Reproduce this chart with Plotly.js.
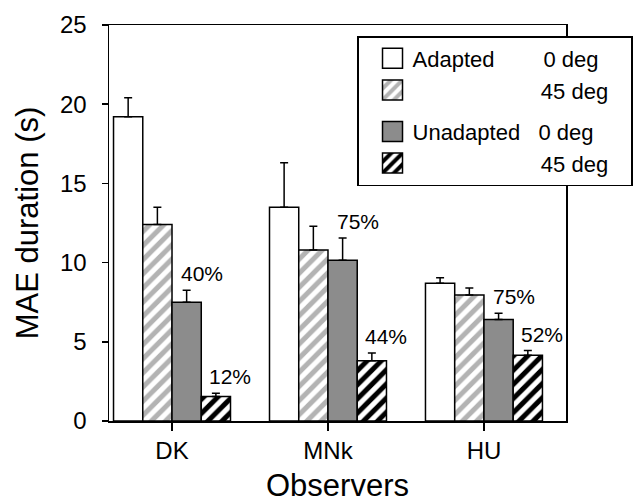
<!DOCTYPE html>
<html><head><meta charset="utf-8">
<script src="https://cdn.plot.ly/plotly-3.0.1.min.js"></script>
<style>html,body{margin:0;padding:0;background:#fff}#chart{width:638px;height:504px}</style>
</head><body><div id="chart"></div>
<script>
// ---- data ----
const observers = ['DK', 'MNk', 'HU'];
const seriesNames = ['Adapted', '', 'Unadapted', ''];
const angleLabels = ['0 deg', '45 deg', '0 deg', '45 deg'];
const adapted0 = [19.2, 13.5, 8.7];
const adapted0Err = [1.2, 2.8, 0.35];
const adapted45 = [12.4, 10.8, 7.95];
const adapted45Err = [1.1, 1.5, 0.45];
const unadapted0 = [7.5, 10.15, 6.4];
const unadapted0Err = [0.75, 1.4, 0.4];
const unadapted45 = [1.55, 3.8, 4.15];
const unadapted45Err = [0.2, 0.5, 0.3];
const pctUnadapted0 = ['40%', '75%', '75%'];
const pctUnadapted45 = ['12%', '44%', '52%'];
const yTickVals = [0, 5, 10, 15, 20, 25];
const xTitle = 'Observers';
const yTitle = 'MAE duration (s)';

// ---- styling ----
const FONT = 'Liberation Sans, Arial, Helvetica, sans-serif';
const NB = '\u00a0';
const namePad = [8, 21, 3, 21];
const groups = ['a', 'a', 'u', 'u'];
const values = [adapted0, adapted45, unadapted0, unadapted45];
const errs = [adapted0Err, adapted45Err, unadapted0Err, unadapted45Err];
const markers = [
  {color: '#ffffff'},
  {color: '#ffffff', pattern: {shape: '/', fgcolor: '#b3b3b3', bgcolor: '#ffffff', size: 10, solidity: 0.5}},
  {color: '#8c8c8c'},
  {color: '#ffffff', pattern: {shape: '/', fgcolor: '#000000', bgcolor: '#ffffff', size: 10, solidity: 0.5}}
];

const traces = values.map((v, k) => ({
  type: 'bar',
  x: observers,
  y: v,
  name: seriesNames[k] + NB.repeat(namePad[k]) + angleLabels[k],
  legendgroup: groups[k],
  marker: Object.assign({}, markers[k], {line: {color: '#000', width: 1.5}}),
  error_y: {type: 'data', symmetric: false, array: errs[k], arrayminus: errs[k].map(() => 0),
            color: '#000', thickness: 1.5, width: 4},
  hoverinfo: 'skip'
}));

const bargap = 0.25;
const bw = (1 - bargap) / 4;
const annotations = [];
observers.forEach((o, i) => {
  annotations.push({x: i + 0.5 * bw, y: unadapted0[i] + unadapted0Err[i], xref: 'x', yref: 'y',
    text: pctUnadapted0[i], showarrow: false, xanchor: 'center', yanchor: 'bottom', xshift: 15, yshift: 3,
    font: {family: FONT, size: 21, color: '#000'}});
  annotations.push({x: i + 1.5 * bw, y: unadapted45[i] + unadapted45Err[i], xref: 'x', yref: 'y',
    text: pctUnadapted45[i], showarrow: false, xanchor: 'center', yanchor: 'bottom', xshift: 14, yshift: 3,
    font: {family: FONT, size: 21, color: '#000'}});
});
annotations.push({x: 0.5, y: -83 / 396, xref: 'paper', yref: 'paper', text: xTitle, showarrow: false,
  xanchor: 'center', yanchor: 'bottom', borderpad: 0, font: {family: FONT, size: 31, color: '#000'}});

const layout = {
  width: 638, height: 504,
  margin: {l: 109, r: 72, t: 25, b: 83, autoexpand: false},
  paper_bgcolor: '#fff', plot_bgcolor: '#fff',
  font: {family: FONT, color: '#000'},
  barmode: 'group', bargap: bargap, bargroupgap: 0,
  showlegend: true,
  legend: {x: 0.5427, y: 0.9722, xanchor: 'left', yanchor: 'top',
    bgcolor: '#fff', bordercolor: '#000', borderwidth: 1.5,
    font: {family: FONT, size: 22, color: '#000'},
    traceorder: 'grouped', tracegroupgap: 10, itemwidth: 44, itemclick: false},
  xaxis: {type: 'category', range: [-0.404, 2.526], showline: true, mirror: true,
    linecolor: '#000', linewidth: 1.5, ticks: 'outside', ticklen: 8, tickwidth: 1.5, tickcolor: '#000',
    tickfont: {family: FONT, size: 24}, showgrid: false, zeroline: false},
  yaxis: {range: [0, 25], tickvals: yTickVals, showline: true, mirror: true,
    linecolor: '#000', linewidth: 1.5, ticks: 'outside', ticklen: 6, tickwidth: 1.5, tickcolor: '#000',
    ticklabelstandoff: 10,
    tickfont: {family: FONT, size: 24}, showgrid: false, zeroline: false,
    title: {text: yTitle, font: {family: FONT, size: 31}, standoff: 12}},
  annotations: annotations
};

const gd = document.getElementById('chart');
function fixLegend() {
  gd.querySelectorAll('.legendpoints path').forEach(p => {
    p.setAttribute('d', 'M10,10H-10V-10H10Z');
    p.setAttribute('transform', 'translate(34,0)');
  });
  gd.querySelectorAll('rect.bg').forEach(r => {
    let n = r.parentNode, inLegend = false;
    while (n && n !== gd) {
      if (n.classList && n.classList.contains('legend')) { inLegend = true; n.removeAttribute('clip-path'); }
      n = n.parentNode;
    }
    if (inLegend) r.setAttribute('width', 274);
  });
}
Plotly.newPlot(gd, traces, layout, {displayModeBar: false, staticPlot: true}).then(() => {
  fixLegend();
  gd.on('plotly_afterplot', fixLegend);
  setTimeout(fixLegend, 50);
});
</script></body></html>
